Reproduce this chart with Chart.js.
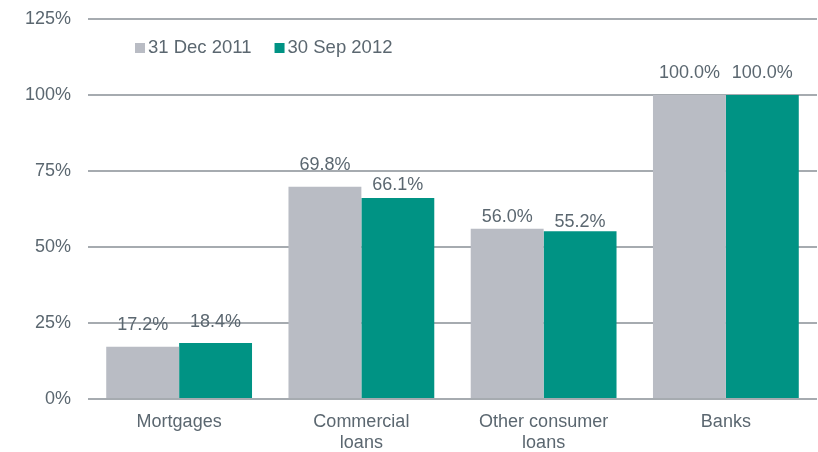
<!DOCTYPE html>
<html>
<head>
<meta charset="utf-8">
<script src="https://cdn.jsdelivr.net/npm/chart.js@4"></script>
<style>
    html, body { margin: 0; padding: 0; background: #ffffff; }
    #wrap { width: 818px; height: 452px; }
</style>
</head>
<body>
<div id="wrap"><canvas id="chart" width="818" height="452"></canvas></div>
<script>
// Chart data
const categories = ['Mortgages', ['Commercial', 'loans'], ['Other consumer', 'loans'], 'Banks'];
const seriesLabels = ['31 Dec 2011', '30 Sep 2012'];
const dec2011 = [17.2, 69.8, 56.0, 100.0];
const sep2012 = [18.4, 66.1, 55.2, 100.0];
const yTicks = [0, 25, 50, 75, 100, 125];

const GREY = '#b9bcc4';
const GREEN = '#009384';
const TEXT = '#5b6770';
const FONT = 'Liberation Sans, Arial, sans-serif';

// value labels above each bar (a few were nudged down in the original)
const valueLabels = {
    id: 'valueLabels',
    afterDatasetsDraw(chart, args, opts) {
        const ctx = chart.ctx;
        ctx.save();
        ctx.font = '18px ' + FONT;
        ctx.fillStyle = TEXT;
        ctx.textAlign = 'center';
        ctx.textBaseline = 'middle';
        chart.data.datasets.forEach((ds, i) => {
            chart.getDatasetMeta(i).data.forEach((bar, j) => {
                const off = opts.offsets[i][j];
                ctx.fillText(ds.data[j].toFixed(1) + '%', bar.x, bar.y - off);
            });
        });
        ctx.restore();
    }
};

// legend drawn inside the plot area
const innerLegend = {
    id: 'innerLegend',
    afterDraw(chart) {
        const ctx = chart.ctx;
        ctx.save();
        ctx.font = '18.5px ' + FONT;
        ctx.textBaseline = 'middle';
        let x = 135;
        const y = 48;
        chart.data.datasets.forEach(ds => {
            ctx.fillStyle = ds.backgroundColor;
            ctx.fillRect(x, y - 5, 10, 10);
            ctx.fillStyle = TEXT;
            ctx.fillText(ds.label, x + 13, y);
            x += 13 + ctx.measureText(ds.label).width + 23;
        });
        ctx.restore();
    }
};

new Chart(document.getElementById('chart'), {
    type: 'bar',
    data: {
        labels: categories,
        datasets: [
            { label: seriesLabels[0], data: dec2011, backgroundColor: GREY },
            { label: seriesLabels[1], data: sep2012, backgroundColor: GREEN }
        ]
    },
    options: {
        responsive: false,
        animation: false,
        layout: { padding: { top: 19, right: 1 } },
        categoryPercentage: 0.8,
        barPercentage: 1.0,
        plugins: {
            legend: { display: false },
            tooltip: { enabled: false },
            valueLabels: { offsets: [[22, 22, 12, 22], [21, 13, 9, 22]] }
        },
        scales: {
            x: {
                grid: { display: false, drawTicks: false },
                border: { display: false },
                afterFit(axis) { axis.height = 53; },
                ticks: {
                    color: TEXT,
                    font: { family: FONT, size: 18 },
                    padding: 12,
                    maxRotation: 0
                }
            },
            y: {
                min: 0,
                max: 125,
                afterBuildTicks(axis) {
                    axis.ticks = yTicks.map(v => ({ value: v }));
                },
                afterFit(axis) {
                    axis.width = 88;
                    axis.paddingTop = 0;
                    axis.paddingBottom = 0;
                },
                grid: { color: '#a6abb0', lineWidth: 2, drawTicks: false },
                border: { display: false },
                ticks: {
                    color: TEXT,
                    font: { family: FONT, size: 18 },
                    padding: 17,
                    callback: v => v + '%'
                }
            }
        }
    },
    plugins: [valueLabels, innerLegend]
});
</script>
</body>
</html>
